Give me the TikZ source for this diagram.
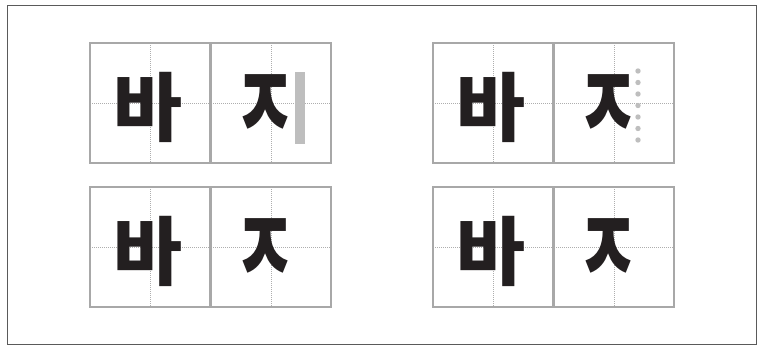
\documentclass[tikz,border=0pt]{standalone}
\usepackage{fontspec}
\newfontfamily\hangul{Noto Sans CJK KR}
\usetikzlibrary{positioning}
\definecolor{frameGrey}{HTML}{5A5A5A}
\definecolor{boxGrey}{HTML}{A8A8A8}
\definecolor{guideGrey}{HTML}{AEAEAE}
\definecolor{markGrey}{HTML}{BEBEBE}
\definecolor{glyphBlack}{HTML}{231F20}

\begin{document}
\begin{tikzpicture}[x=1pt, y=-1pt,
    cell/.style={draw=boxGrey, line width=1.2pt, fill=white, minimum size=120pt,
                 inner sep=0pt, outer sep=0pt,
                 path picture={
                   \draw[guide] (path picture bounding box.north) -- (path picture bounding box.south);
                   \draw[guide] (path picture bounding box.west) -- (path picture bounding box.east);
                 }},
    guide/.style={guideGrey, line width=0.7pt, dash pattern=on 1pt off 1pt},
    glyph/.style={inner sep=0pt, text=glyphBlack,
                  font=\hangul\bfseries\fontsize{75}{75}\selectfont},
    syl/.style={glyph, xshift=-2pt, yshift=-4.5pt},
    jamo/.style={glyph, xshift=-5pt, yshift=-5pt, xscale=0.9, yscale=1.35, transform shape},
    node distance=1pt]
    \useasboundingbox (0,0) rectangle (764,346);
    \draw[frameGrey, line width=1pt] (7,5) rectangle (756,344);
    % left pairs
    \node[cell] (c1) at (150,103) {};
    \node[cell, right=of c1] (c2) {};
    \node[cell, below=24pt of c1] (c3) {};
    \node[cell, right=of c3] (c4) {};
    % right pairs
    \node[cell, right=102pt of c2] (c5) {};
    \node[cell, right=of c5] (c6) {};
    \node[cell, below=24pt of c5] (c7) {};
    \node[cell, right=of c7] (c8) {};
    % letters
    \foreach \a/\b in {c1/c2, c3/c4, c5/c6, c7/c8} {
      \node[syl] at (\a) {바};
      \node[jamo] at (\b) {ㅈ};
    }
    % vertical bar and dotted column
    \fill[markGrey] (295,72) rectangle (305,144);
    \foreach \i in {0,...,6}
      \fill[markGrey] (638,71+11.5*\i) circle (2.7);
\end{tikzpicture}
\end{document}
